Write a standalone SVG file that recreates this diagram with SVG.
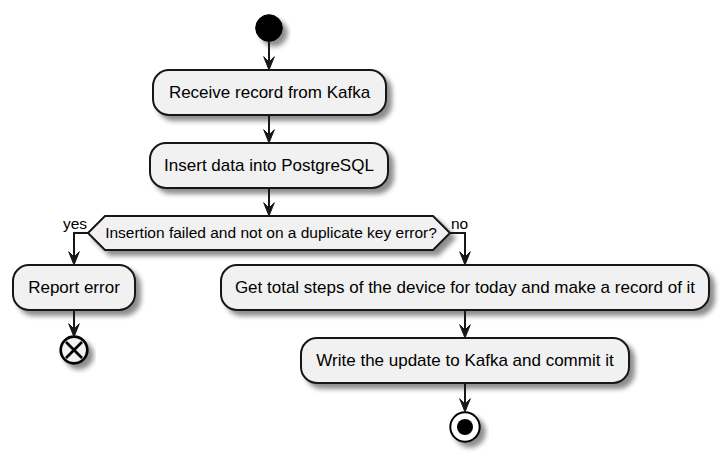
<svg xmlns="http://www.w3.org/2000/svg" width="722" height="456" viewBox="0 0 722 456">
<defs>
<filter id="sh" x="-20%" y="-20%" width="150%" height="180%">
<feGaussianBlur in="SourceAlpha" stdDeviation="2.5" result="b"/>
<feOffset dx="5" dy="5" in="b" result="o"/>
<feComponentTransfer in="o" result="c"><feFuncA type="linear" slope="0.45"/></feComponentTransfer>
<feMerge><feMergeNode in="c"/><feMergeNode in="SourceGraphic"/></feMerge>
</filter>
<polygon id="ah" points="-5.3,-13.3 0,0 5.3,-13.3 0,-8" fill="#181818" stroke="#181818" stroke-width="1"/>
</defs>
<style>
.box{fill:#F1F1F1;stroke:#181818;stroke-width:2;filter:url(#sh);}
.t{font-family:"Liberation Sans",Arial,sans-serif;font-size:17px;fill:#000;text-anchor:middle;}
.ts{font-family:"Liberation Sans",Arial,sans-serif;font-size:15.5px;fill:#000;}
.c{fill:none;stroke:#181818;stroke-width:2;}
</style>
<rect width="722" height="456" fill="#FFFFFF"/>
<g id="start"><circle cx="269" cy="28" r="13.3" fill="#000" stroke="#000" stroke-width="1" filter="url(#sh)"/></g>
<g id="receive"><rect class="box" x="153" y="70" width="233" height="45" rx="16" ry="16"/><text class="t" x="269.5" y="98">Receive record from Kafka</text></g>
<g id="insert"><rect class="box" x="150" y="143" width="238" height="45" rx="16" ry="16"/><text class="t" x="269" y="171">Insert data into PostgreSQL</text></g>
<g id="decision"><polygon class="box" points="88,233 105,216 433,216 450,233 433,250 105,250"/><text class="ts" x="271" y="238" text-anchor="middle">Insertion failed and not on a duplicate key error?</text></g>
<g id="report"><rect class="box" x="13" y="265" width="122" height="45" rx="16" ry="16"/><text class="t" x="74" y="293">Report error</text></g>
<g id="gettotal"><rect class="box" x="221" y="265" width="488" height="45" rx="16" ry="16"/><text class="t" x="465" y="293">Get total steps of the device for today and make a record of it</text></g>
<g id="write"><rect class="box" x="301" y="338" width="328" height="45" rx="16" ry="16"/><text class="t" x="465" y="366">Write the update to Kafka and commit it</text></g>
<g id="endx"><g filter="url(#sh)"><circle cx="74" cy="350" r="13.3" fill="#F1F1F1" stroke="#000" stroke-width="2.7"/><path d="M66,342 L82,358 M82,342 L66,358" stroke="#000" stroke-width="2.7"/></g></g>
<g id="stop"><g filter="url(#sh)"><circle cx="465" cy="427" r="14.7" fill="#FFFFFF" stroke="#000" stroke-width="2"/><circle cx="465" cy="427" r="8" fill="#000"/></g></g>
<g id="connectors">
<line class="c" x1="269" y1="41.3" x2="269" y2="62"/><use href="#ah" x="269" y="70"/>
<line class="c" x1="269" y1="115" x2="269" y2="135"/><use href="#ah" x="269" y="143"/>
<line class="c" x1="269" y1="188" x2="269" y2="208"/><use href="#ah" x="269" y="216"/>
<polyline class="c" points="88,233 74,233 74,257"/><use href="#ah" x="74" y="265"/>
<polyline class="c" points="450,233 465,233 465,257"/><use href="#ah" x="465" y="265"/>
<line class="c" x1="74" y1="310" x2="74" y2="329"/><use href="#ah" x="74" y="337"/>
<line class="c" x1="465" y1="310" x2="465" y2="330"/><use href="#ah" x="465" y="338"/>
<line class="c" x1="465" y1="383" x2="465" y2="404"/><use href="#ah" x="465" y="412"/>
<text class="ts" x="63" y="229">yes</text>
<text class="ts" x="451" y="229">no</text>
</g>
</svg>
